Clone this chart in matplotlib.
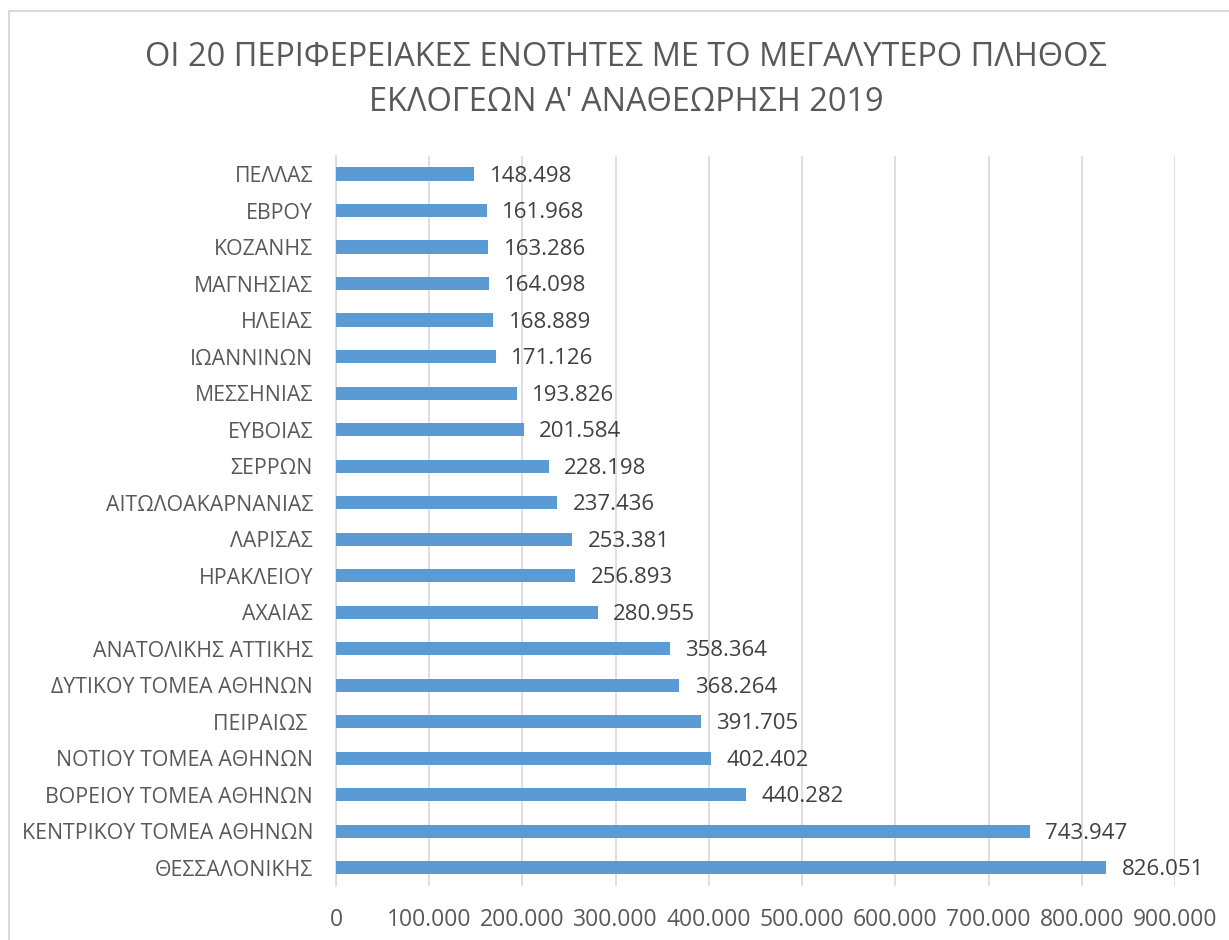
import matplotlib
matplotlib.use("Agg")
import matplotlib.pyplot as plt
from matplotlib.patches import Rectangle
from matplotlib.ticker import FuncFormatter, MultipleLocator

categories = ["ΘΕΣΣΑΛΟΝΙΚΗΣ", "ΚΕΝΤΡΙΚΟΥ ΤΟΜΕΑ ΑΘΗΝΩΝ", "ΒΟΡΕΙΟΥ ΤΟΜΕΑ ΑΘΗΝΩΝ",
              "ΝΟΤΙΟΥ ΤΟΜΕΑ ΑΘΗΝΩΝ", "ΠΕΙΡΑΙΩΣ ", "ΔΥΤΙΚΟΥ ΤΟΜΕΑ ΑΘΗΝΩΝ",
              "ΑΝΑΤΟΛΙΚΗΣ ΑΤΤΙΚΗΣ", "ΑΧΑΙΑΣ", "ΗΡΑΚΛΕΙΟΥ", "ΛΑΡΙΣΑΣ",
              "ΑΙΤΩΛΟΑΚΑΡΝΑΝΙΑΣ", "ΣΕΡΡΩΝ", "ΕΥΒΟΙΑΣ", "ΜΕΣΣΗΝΙΑΣ", "ΙΩΑΝΝΙΝΩΝ",
              "ΗΛΕΙΑΣ", "ΜΑΓΝΗΣΙΑΣ", "ΚΟΖΑΝΗΣ", "ΕΒΡΟΥ", "ΠΕΛΛΑΣ"]
values = [826051, 743947, 440282, 402402, 391705, 368264, 358364, 280955,
          256893, 253381, 237436, 228198, 201584, 193826, 171126, 168889,
          164098, 163286, 161968, 148498]
title = "ΟΙ 20 ΠΕΡΙΦΕΡΕΙΑΚΕΣ ΕΝΟΤΗΤΕΣ ΜΕ ΤΟ ΜΕΓΑΛΥΤΕΡΟ ΠΛΗΘΟΣ\nΕΚΛΟΓΕΩΝ Α' ΑΝΑΘΕΩΡΗΣΗ 2019"

plt.rcParams['font.family'] = ['Open Sans', 'DejaVu Sans']

W, H = 1229, 940
fig = plt.figure(figsize=(W / 100, H / 100), dpi=100)
fig.patch.set_facecolor("white")

# outer chart border
fig.patches.append(Rectangle((9 / W, -0.05), 1.2, (H - 11) / H + 0.05,
                             transform=fig.transFigure, fill=False,
                             edgecolor="#d9d9d9", linewidth=1.5))

left, right = 336 / W, 1175 / W
top, bottom = 155.75 / H, 886 / H
ax = fig.add_axes([left, 1 - bottom, right - left, bottom - top])

def fmt(v):
    return f"{int(round(v)):,}".replace(",", ".")

ypos = list(range(len(categories)))
ax.barh(ypos, values, height=0.36, color="#5b9bd5", zorder=3)
for y, v in zip(ypos, values):
    ax.text(v + 16500, y - 0.06, fmt(v), va="center", ha="left", fontsize=16,
            color="#404040", zorder=4)

ax.set_xlim(0, 900000)
ax.set_ylim(-0.5, len(categories) - 0.5)
ax.xaxis.set_major_locator(MultipleLocator(100000))
ax.xaxis.set_major_formatter(FuncFormatter(lambda v, p: fmt(v)))
ax.set_yticks(ypos)
ax.set_yticklabels(categories)
ax.grid(axis="x", color="#d9d9d9", linewidth=1.2, zorder=0)
for s in ["top", "right", "bottom"]:
    ax.spines[s].set_visible(False)
ax.spines["left"].set_color("#d9d9d9")
ax.spines["left"].set_linewidth(1.2)
ax.tick_params(axis="both", length=0, colors="#595959")
ax.tick_params(axis="y", pad=16.5, labelsize=15.3)
ax.tick_params(axis="x", pad=15.5, labelsize=16.5)

fig.text(626 / W, 1 - 80 / H, title, ha="center", va="center", fontsize=23.4,
         color="#595959", linespacing=1.5)

fig.savefig("out.png", dpi=100, facecolor="white")
